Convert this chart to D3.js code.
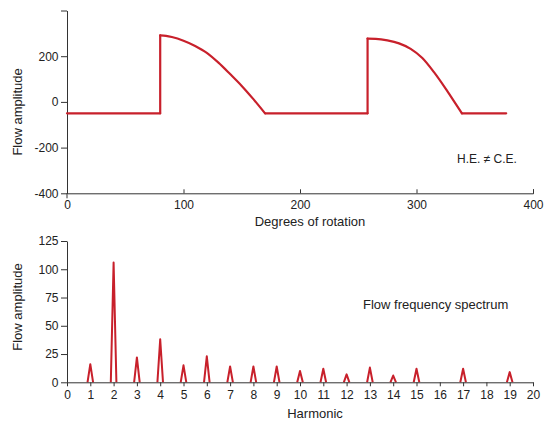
<!DOCTYPE html>
<html>
<head>
<meta charset="utf-8">
<script src="https://cdn.jsdelivr.net/npm/d3@7.9.0/dist/d3.min.js"></script>
<style>
  body { margin: 0; background: #fff; }
  svg { display: block; font-family: "Liberation Sans", Arial, sans-serif; }
  .axis path, .axis line { stroke: #333; }
  .axis text { font-size: 12px; fill: #222; font-family: "Liberation Sans", Arial, sans-serif; }
  .lbl { font-size: 13px; fill: #222; }
</style>
</head>
<body>
<svg width="548" height="421"></svg>
<script>
// top chart: flow over one crank rotation
const degrees = [0, 80, 80, 85, 90, 100, 110, 120, 130, 140, 150, 160, 170,
                 258, 258, 265, 275, 285, 295, 305, 315, 325, 330, 339, 377];
const flow =    [-50, -50, 291, 289, 284, 268, 245, 215, 172, 122, 70, 12, -50,
                 -50, 277, 276, 269, 256, 232, 192, 130, 58, 20, -50, -50];
const flowTicks = [-400, -200, 0, 200, 400];
const degTicks = [0, 100, 200, 300, 400];

// bottom chart: harmonic spectrum
const harmonics = [1, 2, 3, 4, 5, 6, 7, 8, 9, 10, 11, 12, 13, 14, 15, 17, 19];
const amplitudes = [16, 106, 22, 38, 15, 23, 14, 14, 14, 10, 12, 7, 13, 6, 12, 12, 9];
const ampTicks = [0, 25, 50, 75, 100, 125];
const harmTicks = d3.range(0, 21);

const red = '#c8202b';
const svg = d3.select('svg');

// ---- top ----
const x1 = d3.scaleLinear().domain([0, 400]).range([67, 533]);
const y1 = d3.scaleLinear().domain([-400, 400]).range([193.3, 10.5]);

svg.append('g')
    .attr('class', 'axis')
    .attr('transform', `translate(0,${y1(-400)})`)
    .call(d3.axisBottom(x1).tickValues(degTicks).tickSizeInner(-4).tickSizeOuter(-4).tickPadding(7))
    .call(g => g.selectAll('text').attr('dy', '0.71em'));

svg.append('g')
    .attr('class', 'axis')
    .attr('transform', `translate(${x1(0)},0)`)
    .call(d3.axisLeft(y1).tickValues(flowTicks).tickSizeInner(6).tickSizeOuter(0).tickPadding(2.5)
        .tickFormat(d => d === 400 ? '' : d));

// y axis runs a little below the x axis
svg.append('line')
    .attr('x1', x1(0)).attr('x2', x1(0))
    .attr('y1', y1(-400)).attr('y2', y1(-400) + 5)
    .attr('stroke', '#333');

// split the trace into pieces: vertical jumps, flat runs, and curved arcs
function segType(i) {
    if (degrees[i + 1] === degrees[i]) return 'v';
    if (flow[i + 1] === flow[i]) return 'f';
    return 'c';
}
let pieces = [];
let cur = null;
for (let i = 0; i < degrees.length - 1; i++) {
    let t = segType(i);
    if (!cur || cur.type !== t) {
        cur = { type: t, idx: [i] };
        pieces.push(cur);
    }
    cur.idx.push(i + 1);
}

const lineStraight = d3.line()
    .x(i => x1(degrees[i]))
    .y(i => y1(flow[i]));
const lineCurved = d3.line()
    .x(i => x1(degrees[i]))
    .y(i => y1(flow[i]))
    .curve(d3.curveMonotoneX);

const trace = svg.append('g');
pieces.forEach(p => {
    trace.append('path')
        .attr('d', p.type === 'c' ? lineCurved(p.idx) : lineStraight(p.idx))
        .attr('fill', 'none')
        .attr('stroke', red)
        .attr('stroke-width', 2.2)
        .attr('stroke-linecap', 'round')
        .attr('stroke-linejoin', 'round');
});

svg.append('text')
    .attr('class', 'lbl')
    .attr('transform', `translate(22,${y1(0) + 10}) rotate(-90)`)
    .attr('text-anchor', 'middle')
    .text('Flow amplitude');

svg.append('text')
    .attr('class', 'lbl')
    .attr('x', 310).attr('y', 226)
    .attr('text-anchor', 'middle')
    .text('Degrees of rotation');

svg.append('text')
    .attr('class', 'lbl')
    .attr('x', 457).attr('y', 163)
    .style('font-size', '12px')
    .text('H.E. \u2260 C.E.');

// ---- bottom ----
const x2 = d3.scaleLinear().domain([0, 20]).range([67, 533]);
const y2 = d3.scaleLinear().domain([0, 125]).range([382.3, 241]);

const spikes = svg.append('g');
harmonics.forEach((h, i) => {
    spikes.append('path')
        .attr('d', d3.line()([
            [x2(h - 0.12), y2(0)],
            [x2(h), y2(amplitudes[i])],
            [x2(h + 0.12), y2(0)]
        ]))
        .attr('fill', 'none')
        .attr('stroke', red)
        .attr('stroke-width', 2)
        .attr('stroke-linejoin', 'round');
});

svg.append('g')
    .attr('class', 'axis')
    .attr('transform', `translate(0,${y2(0)})`)
    .call(d3.axisBottom(x2).tickValues(harmTicks).tickSizeInner(4).tickSizeOuter(0).tickPadding(4.5));

svg.append('g')
    .attr('class', 'axis')
    .attr('transform', `translate(${x2(0)},0)`)
    .call(d3.axisLeft(y2).tickValues(ampTicks).tickSizeInner(6).tickSizeOuter(0).tickPadding(2.5));

svg.append('text')
    .attr('class', 'lbl')
    .attr('transform', `translate(22,307) rotate(-90)`)
    .attr('text-anchor', 'middle')
    .text('Flow amplitude');

svg.append('text')
    .attr('class', 'lbl')
    .attr('x', 315).attr('y', 418)
    .attr('text-anchor', 'middle')
    .text('Harmonic');

svg.append('text')
    .attr('class', 'lbl')
    .attr('x', 363).attr('y', 309)
    .text('Flow frequency spectrum');
</script>
</body>
</html>
